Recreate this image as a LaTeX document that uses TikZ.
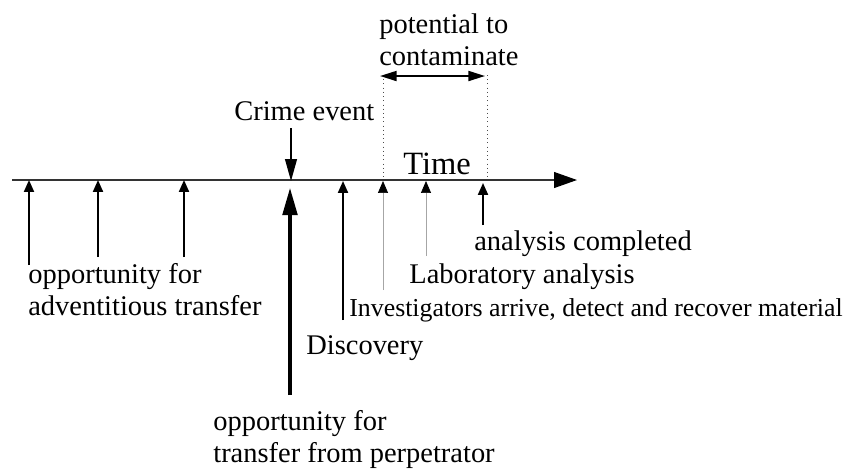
\documentclass[tikz,border=0pt]{standalone}
\usepackage{fontspec}
\setmainfont{Liberation Serif}
\usetikzlibrary{arrows.meta}

\begin{document}
\begin{tikzpicture}[x=0.02cm, y=-0.02cm,
    label/.style={anchor=base west, inner sep=0pt, align=left, font=\fontsize{16.2}{18.2}\selectfont},
    smalllabel/.style={label, font=\fontsize{14.7}{17}\selectfont},
    axis/.style={-{Triangle[length=13pt, width=9pt, color=black]}, draw=black!80, line width=0.7pt},
    uparrow/.style={-{Triangle[length=6.8pt, width=5.7pt]}, line width=1.1pt},
    greyarrow/.style={-{Triangle[length=6.8pt, width=5.7pt, color=black]}, draw=black!35, line width=0.4pt},
    downarrow/.style={-{Triangle[length=12.5pt, width=6.8pt]}, line width=0.7pt},
    thickarrow/.style={-{Triangle[length=16pt, width=8pt]}, line width=2.8pt},
    biarrow/.style={{Triangle[length=9.5pt, width=5.7pt]}-{Triangle[length=9.5pt, width=5.7pt]}, line width=1.1pt},
    guide/.style={dotted, draw=black!70, line width=0.4pt},
]
\useasboundingbox (0,0) rectangle (847,468);

% Time axis
\coordinate (ax0) at (12,180);
\coordinate (ax1) at (577,180);
\draw[axis] (ax0) -- (ax1);
\node[label, font=\fontsize{18.5}{20}\selectfont] (time) at (403,174) {Time};

% Adventitious transfer
\coordinate (adv1) at (29,180);
\coordinate (adv2) at (98,180);
\coordinate (adv3) at (184,180);
\coordinate (adv1b) at (29,265);
\coordinate (adv2b) at (98,257);
\coordinate (adv3b) at (184,257);
\draw[uparrow] (adv1b) -- (adv1);
\draw[uparrow] (adv2b) -- (adv2);
\draw[uparrow] (adv3b) -- (adv3);
\node[label] (advtxt) at (28,315) {opportunity for\\adventitious transfer};

% Crime event
\node[label] (crime) at (234,120) {Crime event};
\coordinate (crimetop) at (291,128);
\coordinate (crimeax) at (291,181);
\draw[downarrow] (crimetop) -- (crimeax);

% Transfer from perpetrator
\coordinate (perp) at (290,187);
\coordinate (perpb) at (290,395);
\draw[thickarrow] (perpb) -- (perp);
\node[label] (perptxt) at (213,462) {opportunity for\\transfer from perpetrator};

% Discovery
\coordinate (disc) at (343,181);
\coordinate (discb) at (343,320);
\draw[uparrow] (discb) -- (disc);
\node[label] (disctxt) at (306,354) {Discovery};

% Investigators
\coordinate (inv) at (383,181);
\coordinate (invb) at (383,290);
\draw[greyarrow] (invb) -- (inv);
\node[smalllabel] (invtxt) at (349,316) {Investigators arrive, detect and recover material};

% Laboratory analysis
\coordinate (lab) at (426,181);
\coordinate (labb) at (426,256);
\draw[greyarrow] (labb) -- (lab);
\node[label] (labtxt) at (409,283) {Laboratory analysis};

% Analysis completed
\coordinate (done) at (483,183);
\coordinate (doneb) at (483,225);
\draw[uparrow] (doneb) -- (done);
\node[label] (donetxt) at (474,250) {analysis completed};

% Potential to contaminate
\coordinate (gl) at (383,75);
\coordinate (gr) at (487,75);
\coordinate (glax) at (383,180);
\coordinate (grax) at (487,180);
\draw[guide] (gl) -- (glax);
\draw[guide] (gr) -- (grax);
\coordinate (pl) at (380,76);
\coordinate (pr) at (485,76);
\draw[biarrow] (pl) -- (pr);
\node[label] (pottxt) at (379,65) {potential to\\contaminate};

\end{tikzpicture}
\end{document}
